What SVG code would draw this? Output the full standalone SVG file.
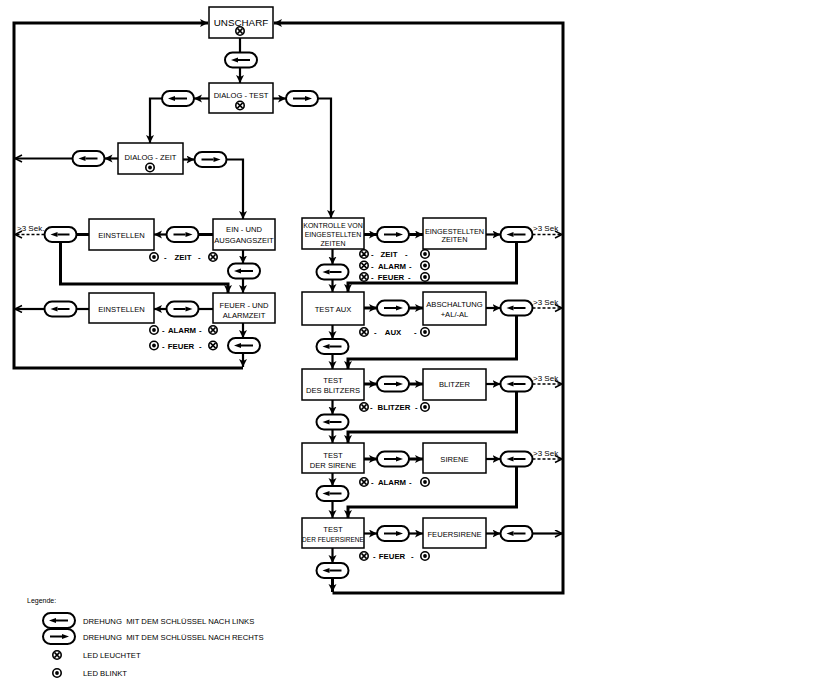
<svg xmlns="http://www.w3.org/2000/svg" xmlns:xlink="http://www.w3.org/1999/xlink" width="840" height="687" viewBox="0 0 840 687">
<style>
.b{fill:#fff;stroke:#000;stroke-width:1.5}
.c{fill:none;stroke:#000;stroke-width:2.2}
.t{fill:none;stroke:#000;stroke-width:3}
.d{fill:none;stroke:#000;stroke-width:1.5;stroke-dasharray:3 2}
text{font-family:"Liberation Sans",Arial,sans-serif;fill:#000}
.bt{font-size:7.6px;text-anchor:middle}
.l{font-size:7.8px;font-weight:bold}
.lm{font-size:7.8px;font-weight:bold;text-anchor:middle}
.s{font-size:8px}
.g{font-size:7.7px;white-space:pre}
</style>
<defs>
<marker id="a" markerUnits="userSpaceOnUse" markerWidth="9" markerHeight="9" refX="8" refY="4" orient="auto"><path d="M0,0 L8,4 L0,8 L2,4 z" fill="#000"/></marker>
<marker id="o" markerUnits="userSpaceOnUse" markerWidth="10" markerHeight="10" refX="8" refY="4" orient="auto"><path d="M1,0.5 L8,4 L1,7.5" fill="none" stroke="#000" stroke-width="1.5"/></marker>
<g id="pL"><rect x="-16" y="-7.5" width="32" height="15" rx="7.5" fill="#fff" stroke="#000" stroke-width="2"/><path d="M-3,0H9" stroke="#000" stroke-width="2"/><path d="M-10,0 L-3,-2.6 L-3,2.6z" fill="#000"/></g>
<g id="pR"><rect x="-16" y="-7.5" width="32" height="15" rx="7.5" fill="#fff" stroke="#000" stroke-width="2"/><path d="M-9,0H3" stroke="#000" stroke-width="2"/><path d="M10,0 L3,-2.6 L3,2.6z" fill="#000"/></g>
<g id="lx"><circle r="4.2" fill="#fff" stroke="#000" stroke-width="1.6"/><path d="M-2.6,-2.6L2.6,2.6M-2.6,2.6L2.6,-2.6" stroke="#000" stroke-width="1.5"/></g>
<g id="lo"><circle r="4.2" fill="#fff" stroke="#000" stroke-width="1.6"/><circle r="1.9" fill="#000"/></g>
</defs>
<rect width="840" height="687" fill="#fff"/>

<g id="connectors">
<path class="t" d="M243,368 H14 V23 H208" marker-end="url(#a)"/>
<path class="t" d="M332.5,593 H563 V23 H274" marker-end="url(#a)"/>
<path class="c" d="M240,38 V52.5"/>
<path class="c" d="M240,67.5 V83" marker-end="url(#a)"/>
<path class="c" d="M209,98.5 H194" marker-end="url(#a)"/>
<path class="c" d="M162,98.5 H150 V143" marker-end="url(#a)"/>
<path class="c" d="M273,98.5 H286" marker-end="url(#a)"/>
<path class="c" d="M318,98.5 H331 V218" marker-end="url(#a)"/>
<path class="c" d="M118,158.5 H104.5" marker-end="url(#a)"/>
<path class="c" d="M72.5,158.5 H15" marker-end="url(#o)"/>
<path class="c" d="M183,159.5 H194.5" marker-end="url(#a)"/>
<path class="c" d="M226.5,159.5 H243 V219" marker-end="url(#a)"/>
<path class="t" d="M213,234.5 H198.5"/>
<path class="c" d="M166.5,234.5 H154" marker-end="url(#a)"/>
<path class="t" d="M89,234.5 H76.5"/>
<path class="d" d="M44.5,234.5 H15" marker-end="url(#o)"/>
<path class="t" d="M60.5,242 V284 H228 V293" marker-end="url(#a)"/>
<path class="c" d="M243,250 V263.5" marker-end="url(#a)"/>
<path class="c" d="M243,278.5 V293" marker-end="url(#a)"/>
<path class="c" d="M213,309 H198.5"/>
<path class="c" d="M166.5,309 H154" marker-end="url(#a)"/>
<path class="c" d="M89,309 H76.5"/>
<path class="c" d="M44.5,309 H15" marker-end="url(#o)"/>
<path class="c" d="M243,323 V338" marker-end="url(#a)"/>
<path class="c" d="M243,353 V367" marker-end="url(#a)"/>

<path class="t" d="M364,234.5 H377" marker-end="url(#a)"/>
<path class="t" d="M409,234.5 H423" marker-end="url(#a)"/>
<path class="c" d="M486,234.5 H500.5" marker-end="url(#a)"/>
<path class="d" d="M532.5,234.5 H562" marker-end="url(#o)"/>
<path class="t" d="M516.5,242 V283 H348 V292" marker-end="url(#a)"/>
<path class="c" d="M332.5,249 V264.5" marker-end="url(#a)"/>
<path class="c" d="M332.5,279.5 V292" marker-end="url(#a)"/>

<path class="t" d="M364,308 H377" marker-end="url(#a)"/>
<path class="t" d="M409,308 H423" marker-end="url(#a)"/>
<path class="c" d="M486,308 H500.5" marker-end="url(#a)"/>
<path class="d" d="M532.5,308 H562" marker-end="url(#o)"/>
<path class="t" d="M516.5,315.5 V359 H348 V369" marker-end="url(#a)"/>
<path class="c" d="M332.5,325 V339" marker-end="url(#a)"/>
<path class="c" d="M332.5,354 V369" marker-end="url(#a)"/>

<path class="t" d="M364,384 H377" marker-end="url(#a)"/>
<path class="t" d="M409,384 H423" marker-end="url(#a)"/>
<path class="c" d="M486,384 H500.5" marker-end="url(#a)"/>
<path class="d" d="M532.5,384 H562" marker-end="url(#o)"/>
<path class="t" d="M516.5,391.5 V432 H348 V443" marker-end="url(#a)"/>
<path class="c" d="M332.5,400 V414.5" marker-end="url(#a)"/>
<path class="c" d="M332.5,429.5 V443" marker-end="url(#a)"/>

<path class="t" d="M364,459 H377" marker-end="url(#a)"/>
<path class="t" d="M409,459 H423" marker-end="url(#a)"/>
<path class="c" d="M486,459 H500.5" marker-end="url(#a)"/>
<path class="d" d="M532.5,459 H562" marker-end="url(#o)"/>
<path class="t" d="M516.5,466.5 V507 H348 V518" marker-end="url(#a)"/>
<path class="c" d="M332.5,473 V486" marker-end="url(#a)"/>
<path class="c" d="M332.5,501 V518" marker-end="url(#a)"/>

<path class="c" d="M364,533.5 H377" marker-end="url(#a)"/>
<path class="c" d="M409,533.5 H423" marker-end="url(#a)"/>
<path class="c" d="M486,533.5 H500.5" marker-end="url(#a)"/>
<path class="c" d="M532.5,533.5 H562" marker-end="url(#o)"/>
<path class="c" d="M332.5,548 V563" marker-end="url(#a)"/>
<path class="t" d="M332.5,578 V592" marker-end="url(#a)"/>
</g>

<g id="labels">
<text class="s" x="17" y="231">&gt;3 Sek.</text>
<text class="s" x="533" y="231">&gt;3 Sek</text>
<text class="s" x="533" y="305">&gt;3 Sek</text>
<text class="s" x="533" y="381">&gt;3 Sek</text>
<text class="s" x="533" y="456">&gt;3 Sek</text>
</g>

<g id="n-unscharf"><rect class="b" x="209" y="7" width="64" height="31"/><text class="bt" x="241" y="25.5" style="font-size:9.8px">UNSCHARF</text><use href="#lx" x="240" y="31"/></g>
<g id="p1"><use href="#pL" x="241" y="60"/></g>
<g id="n-dialog-test"><rect class="b" x="209" y="83" width="64" height="30"/><text class="bt" x="241" y="98">DIALOG - TEST</text><use href="#lx" x="240" y="105.5"/></g>
<g id="p2"><use href="#pL" x="178" y="98.5"/></g>
<g id="p3"><use href="#pR" x="302" y="98.5"/></g>
<g id="n-dialog-zeit"><rect class="b" x="118" y="143" width="65" height="31"/><text class="bt" x="150.5" y="160">DIALOG - ZEIT</text><use href="#lo" x="150" y="167.5"/></g>
<g id="p4"><use href="#pL" x="88.5" y="158.5"/></g>
<g id="p5"><use href="#pR" x="210.5" y="159.5"/></g>
<g id="n-ein-und"><rect class="b" x="213" y="219" width="62" height="31"/><text class="bt" x="244" y="232">EIN - UND</text><text class="bt" x="244" y="243">AUSGANGSZEIT</text></g>
<g id="p6"><use href="#pR" x="182.5" y="234.5"/></g>
<g id="n-einstellen1"><rect class="b" x="89" y="219" width="65" height="31"/><text class="bt" x="121.5" y="237.5">EINSTELLEN</text></g>
<g id="p7"><use href="#pL" x="60.5" y="234.5"/></g>
<g id="led-zeit"><use href="#lo" x="154" y="257"/><text class="l" x="164" y="260">-</text><text class="lm" x="183" y="260">ZEIT</text><text class="l" x="198" y="260">-</text><use href="#lx" x="213" y="257"/></g>
<g id="p8"><use href="#pL" x="244" y="271"/></g>
<g id="n-feuer-und"><rect class="b" x="213" y="293" width="62" height="30"/><text class="bt" x="244" y="308">FEUER - UND</text><text class="bt" x="244" y="318">ALARMZEIT</text></g>
<g id="p9"><use href="#pR" x="182.5" y="309"/></g>
<g id="n-einstellen2"><rect class="b" x="89" y="293" width="65" height="30"/><text class="bt" x="121.5" y="311.5">EINSTELLEN</text></g>
<g id="p10"><use href="#pL" x="60.5" y="309"/></g>
<g id="led-alarm1"><use href="#lo" x="154" y="330"/><text class="l" x="162" y="333">-</text><text class="lm" x="182" y="333">ALARM</text><text class="l" x="199" y="333">-</text><use href="#lx" x="213" y="330"/></g>
<g id="led-feuer1"><use href="#lo" x="154" y="345.5"/><text class="l" x="162" y="348.5">-</text><text class="lm" x="181" y="348.5">FEUER</text><text class="l" x="199" y="348.5">-</text><use href="#lx" x="213" y="345.5"/></g>
<g id="p11"><use href="#pL" x="244" y="345.5"/></g>

<g id="n-kontrolle"><rect class="b" x="302" y="218" width="62" height="31"/><text class="bt" x="333" y="227.5" style="font-size:7px">KONTROLLE VON</text><text class="bt" x="333" y="236.5" style="font-size:7px">EINGESTELLTEN</text><text class="bt" x="333" y="245.5" style="font-size:7px">ZEITEN</text></g>
<g id="r1"><use href="#pR" x="393" y="234.5"/></g>
<g id="n-eingestellten"><rect class="b" x="423" y="218" width="63" height="31"/><text class="bt" x="454.5" y="233.5" style="font-size:7.3px">EINGESTELLTEN</text><text class="bt" x="454.5" y="242" style="font-size:7.3px">ZEITEN</text></g>
<g id="r2"><use href="#pL" x="516.5" y="234.5"/></g>
<g id="led-k"><use href="#lx" x="364" y="254"/><text class="l" x="371" y="257">-</text><text class="lm" x="389" y="257">ZEIT</text><text class="l" x="405" y="257">-</text><use href="#lo" x="425" y="254"/>
<use href="#lx" x="364" y="265.5"/><text class="l" x="371" y="268.5">-</text><text class="lm" x="392" y="268.5">ALARM</text><text class="l" x="409" y="268.5">-</text><use href="#lo" x="425" y="265.5"/>
<use href="#lx" x="364" y="277"/><text class="l" x="371" y="280">-</text><text class="lm" x="391" y="280">FEUER</text><text class="l" x="408" y="280">-</text><use href="#lo" x="425" y="277"/></g>
<g id="r3"><use href="#pL" x="332.5" y="272"/></g>

<g id="n-test-aux"><rect class="b" x="302" y="292" width="62" height="33"/><text class="bt" x="333" y="311.5">TEST AUX</text></g>
<g id="r4"><use href="#pR" x="393" y="308"/></g>
<g id="n-abschaltung"><rect class="b" x="423" y="292" width="63" height="33"/><text class="bt" x="454.5" y="307">ABSCHALTUNG</text><text class="bt" x="454.5" y="316.5">+AL/-AL</text></g>
<g id="r5"><use href="#pL" x="516.5" y="308"/></g>
<g id="led-aux"><use href="#lx" x="364" y="332"/><text class="l" x="374" y="335">-</text><text class="lm" x="393" y="335">AUX</text><text class="l" x="414" y="335">-</text><use href="#lo" x="425" y="332"/></g>
<g id="r6"><use href="#pL" x="332.5" y="346.5"/></g>

<g id="n-test-blitzer"><rect class="b" x="302" y="369" width="62" height="31"/><text class="bt" x="333" y="383">TEST</text><text class="bt" x="333" y="392.5">DES BLITZERS</text></g>
<g id="r7"><use href="#pR" x="393" y="384"/></g>
<g id="n-blitzer"><rect class="b" x="423" y="369" width="63" height="31"/><text class="bt" x="454.5" y="387">BLITZER</text></g>
<g id="r8"><use href="#pL" x="516.5" y="384"/></g>
<g id="led-blitzer"><use href="#lx" x="364" y="407"/><text class="l" x="370" y="410">-</text><text class="lm" x="394" y="410">BLITZER</text><text class="l" x="415" y="410">-</text><use href="#lo" x="425" y="407"/></g>
<g id="r9"><use href="#pL" x="332.5" y="422"/></g>

<g id="n-test-sirene"><rect class="b" x="302" y="443" width="62" height="30"/><text class="bt" x="333" y="458">TEST</text><text class="bt" x="333" y="467.5">DER SIRENE</text></g>
<g id="r10"><use href="#pR" x="393" y="459"/></g>
<g id="n-sirene"><rect class="b" x="423" y="443" width="63" height="30"/><text class="bt" x="454.5" y="461.5">SIRENE</text></g>
<g id="r11"><use href="#pL" x="516.5" y="459"/></g>
<g id="led-sirene"><use href="#lx" x="364" y="482"/><text class="l" x="371" y="485">-</text><text class="lm" x="392" y="485">ALARM</text><text class="l" x="409" y="485">-</text><use href="#lo" x="425" y="482"/></g>
<g id="r12"><use href="#pL" x="332.5" y="493.5"/></g>

<g id="n-test-feuersirene"><rect class="b" x="302" y="518" width="62" height="30"/><text class="bt" x="333" y="532">TEST</text><text class="bt" x="333" y="541.5" style="font-size:6.5px">DER FEUERSIRENE</text></g>
<g id="r13"><use href="#pR" x="393" y="533.5"/></g>
<g id="n-feuersirene"><rect class="b" x="423" y="518" width="63" height="30"/><text class="bt" x="454.5" y="536.5">FEUERSIRENE</text></g>
<g id="r14"><use href="#pL" x="516.5" y="533.5"/></g>
<g id="led-feuer2"><use href="#lx" x="364" y="556"/><text class="l" x="373" y="559">-</text><text class="lm" x="392" y="559">FEUER</text><text class="l" x="411" y="559">-</text><use href="#lo" x="425" y="556"/></g>
<g id="r15"><use href="#pL" x="332.5" y="570.5"/></g>

<g id="legend">
<text x="27" y="603" style="font-size:7px">Legende:</text>
<use href="#pL" x="59" y="620.5"/>
<text class="g" x="83" y="623.5">DREHUNG  MIT DEM SCHLÜSSEL NACH LINKS</text>
<use href="#pR" x="59" y="636.5"/>
<text class="g" x="83" y="639.5">DREHUNG  MIT DEM SCHLÜSSEL NACH RECHTS</text>
<use href="#lx" x="57" y="655"/>
<text class="g" x="83" y="658">LED LEUCHTET</text>
<use href="#lo" x="57" y="673"/>
<text class="g" x="83" y="676">LED BLINKT</text>
</g>
</svg>
